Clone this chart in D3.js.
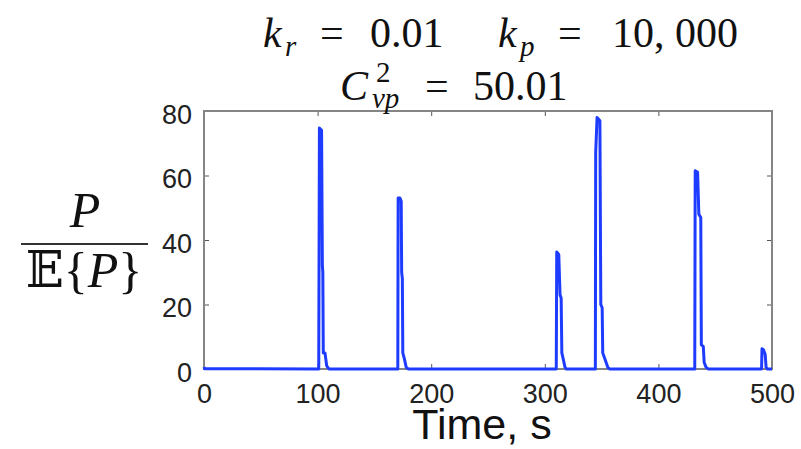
<!DOCTYPE html>
<html>
<head>
<meta charset="utf-8">
<script src="https://cdn.jsdelivr.net/npm/d3@7"></script>
<style>
  body { margin: 0; background: #fff; }
  svg { display: block; }
</style>
</head>
<body>
<svg width="801" height="449"></svg>
<script>
// time axis (s) and normalised protein level P / E{P}
var timeS = [0, 0.5, 101.0, 101.3, 101.6, 103.5, 104.2, 104.6, 105.0, 106.5, 108, 110,
  170.6, 170.9, 172.5, 173.6, 174.0, 174.6, 175.0, 176.5, 178, 180,
  310.1, 310.5, 312.3, 313.4, 314.4, 315.0, 316.3, 317.8, 319,
  344.5, 344.8, 346, 348.5, 349.3, 350.5, 351, 353, 355.5, 357,
  432.0, 432.4, 434.5, 435.6, 437.3, 437.8, 439.5, 440.3, 442, 444,
  490.8, 491.2, 492.5, 494, 494.8, 496, 500];
var ratio = [0.6, 0.1, 0, 36, 74.7, 74, 32, 30, 5, 5, 1, 0,
  0, 53, 53, 52, 30, 28, 5, 3, 0.5, 0,
  0, 36.3, 35.5, 23, 22, 5, 3, 0.5, 0,
  0, 67, 78, 77, 20, 19, 5, 3, 0.5, 0,
  0, 61.5, 61, 48, 47, 7.5, 7, 2, 0.5, 0,
  0, 6.3, 6, 4.5, 0.5, 0, 0];

var xTicks = [0, 100, 200, 300, 400, 500];
var yTicks = [0, 20, 40, 60, 80];

var svg = d3.select("svg");
// "top" is taken by window.top, so plot edges get their own names
var pLeft = 204, pRight = 772, pTop = 111, pBottom = 369;

var x = d3.scaleLinear().domain([0, 500]).range([pLeft, pRight]);
var y = d3.scaleLinear().domain([0, 80]).range([pBottom, pTop]);

var data = timeS.map(function(t, i) { return {t: t, v: ratio[i]}; });

// ticks (inward, like matlab)
var gx = svg.append("g").attr("transform", "translate(0," + pBottom + ")")
  .call(d3.axisBottom(x).tickValues(xTicks).tickSize(-5).tickPadding(15));
var gxt = svg.append("g").attr("transform", "translate(0," + pTop + ")")
  .call(d3.axisTop(x).tickValues(xTicks).tickSize(-5).tickFormat(""));
var gy = svg.append("g").attr("transform", "translate(" + pLeft + ",0)")
  .call(d3.axisLeft(y).tickValues(yTicks).tickSize(-5).tickPadding(12));
var gyr = svg.append("g").attr("transform", "translate(" + pRight + ",0)")
  .call(d3.axisRight(y).tickValues(yTicks).tickSize(-5).tickFormat(""));

[gx, gxt, gy, gyr].forEach(function(g) {
  g.select(".domain").remove();
  g.selectAll(".tick line").attr("stroke", "#555").attr("stroke-width", 1);
  g.selectAll(".tick text")
    .attr("fill", "#222")
    .style("font-family", "'Liberation Sans', Arial, sans-serif")
    .style("font-size", "27px");
});
gy.selectAll(".tick text").attr("dy", "0.45em");

// box
svg.append("rect")
  .attr("x", pLeft).attr("y", pTop)
  .attr("width", pRight - pLeft).attr("height", pBottom - pTop)
  .attr("fill", "none").attr("stroke", "#858585").attr("stroke-width", 2);

// the series
var line = d3.line()
  .x(function(d) { return x(d.t); })
  .y(function(d) { return y(d.v); });

svg.append("path")
  .datum(data)
  .attr("d", line)
  .attr("fill", "none")
  .attr("stroke", "#1e3cff")
  .attr("stroke-width", 3)
  .attr("stroke-linejoin", "round");

// title (latex-ish)
var serif = "'Liberation Serif', 'DejaVu Serif', serif";
function tx(str, xx, yy, size, italic) {
  return svg.append("text")
    .attr("x", xx).attr("y", yy)
    .style("font-family", serif)
    .style("font-size", size + "px")
    .style("font-style", italic ? "italic" : "normal")
    .attr("fill", "#111")
    .text(str);
}
tx("k", 263, 47, 42, true);
tx("r", 285, 56, 29, true);
tx("=", 320, 47, 42, false);
tx("0.01", 370, 47, 42, false);
tx("k", 498, 47, 42, true);
tx("p", 520, 56, 29, true);
tx("=", 558, 47, 42, false);
tx("10, 000", 612, 47, 42, false);

tx("C", 340, 100, 42, true);
tx("2", 376, 82, 29, false);
tx("vp", 372, 108, 29, true);
tx("=", 425, 100, 42, false);
tx("50.01", 473, 100, 42, false);

// y label: P over E{P}
tx("P", 85, 227, 50, true).attr("text-anchor", "middle");
svg.append("line")
  .attr("x1", 21).attr("x2", 148).attr("y1", 244).attr("y2", 244)
  .attr("stroke", "#333").attr("stroke-width", 2);
var den = svg.append("text")
  .attr("x", 84).attr("y", 287)
  .attr("text-anchor", "middle")
  .style("font-family", serif)
  .style("font-size", "50px")
  .attr("fill", "#111");
den.append("tspan").style("font-family", "'DejaVu Serif', 'DejaVu Sans', serif").text("𝔼");
den.append("tspan").text("{");
den.append("tspan").style("font-style", "italic").text("P");
den.append("tspan").text("}");

// x label
svg.append("text")
  .attr("x", 482).attr("y", 439)
  .attr("text-anchor", "middle")
  .style("font-family", "'Liberation Sans', Arial, sans-serif")
  .style("font-size", "43px")
  .attr("fill", "#111")
  .text("Time, s");
</script>
</body>
</html>
